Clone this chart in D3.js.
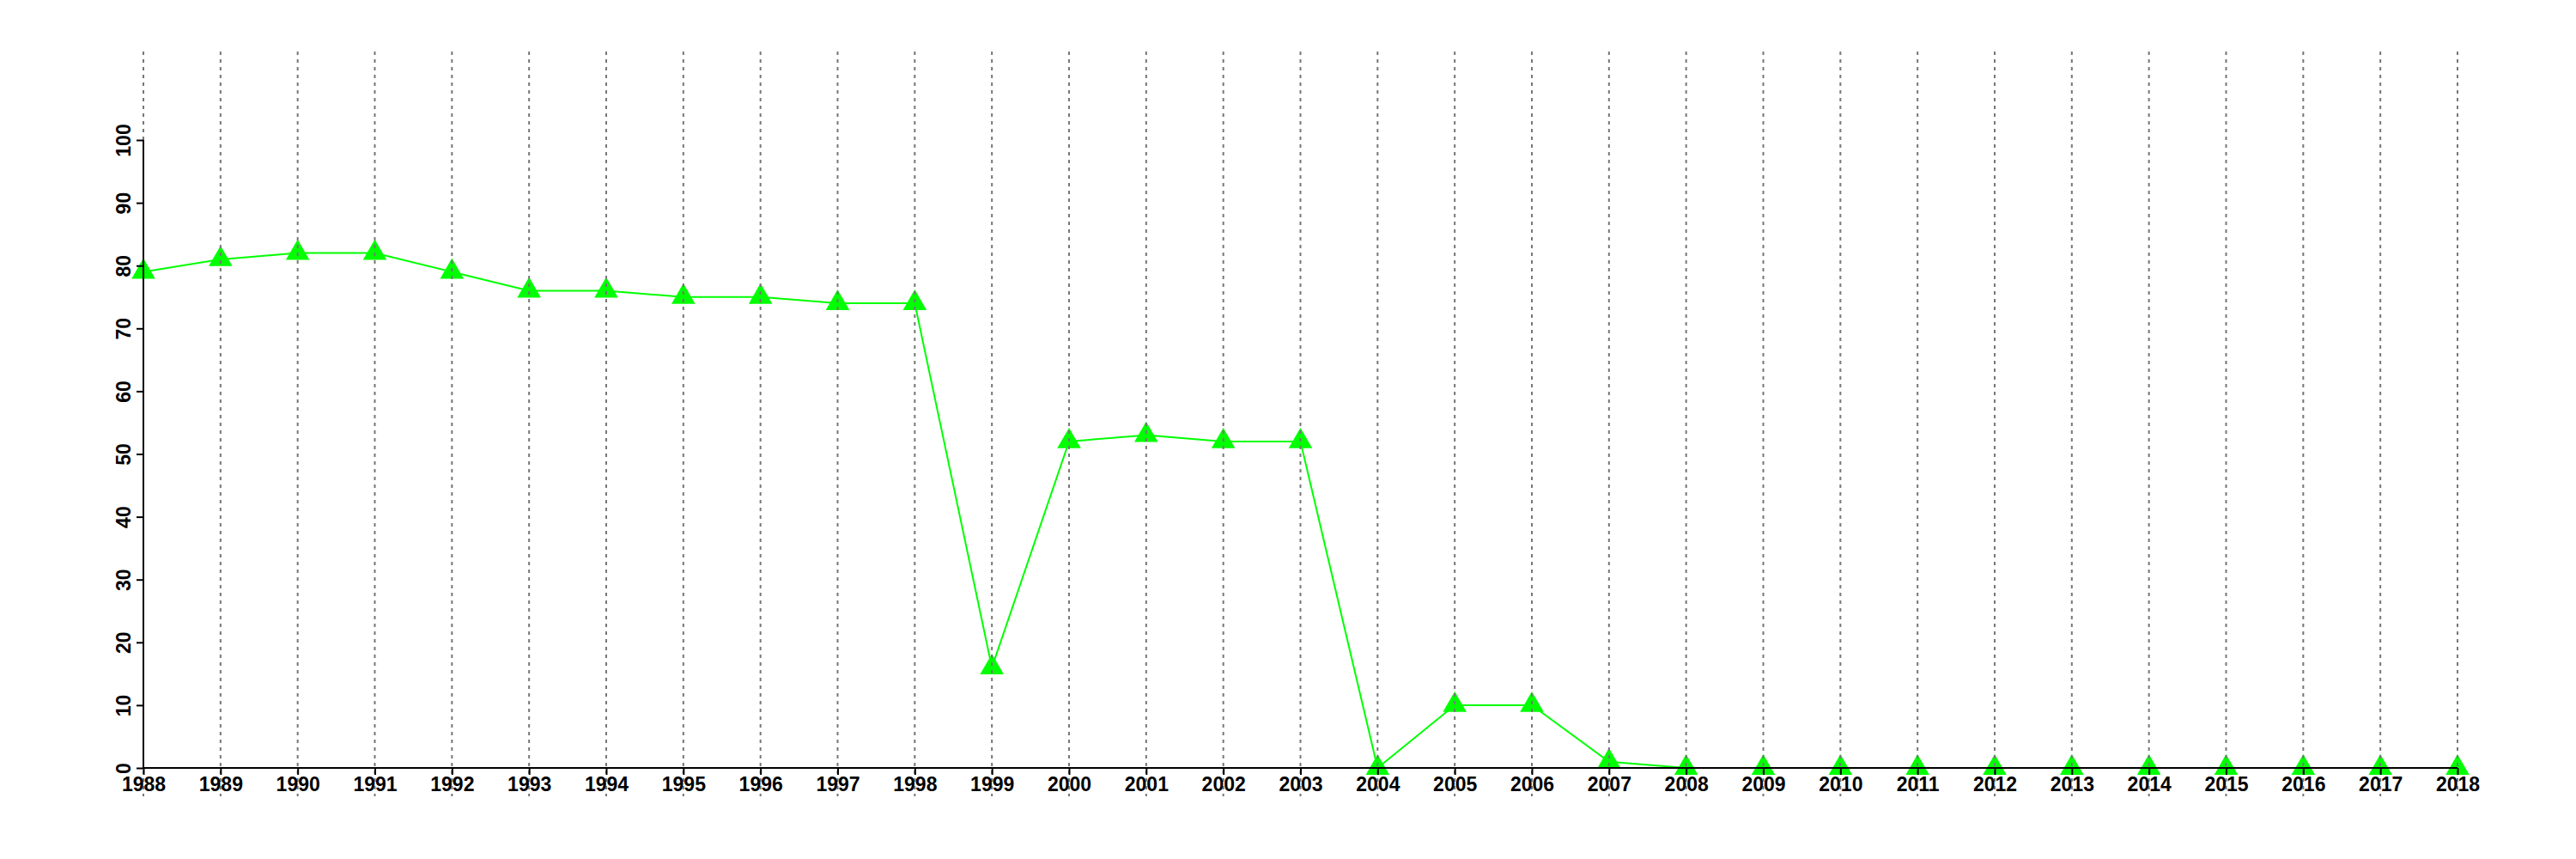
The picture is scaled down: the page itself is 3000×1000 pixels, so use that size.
<!DOCTYPE html>
<html>
<head>
<meta charset="utf-8">
<script src="https://cdn.jsdelivr.net/npm/d3@7"></script>
<style>
html,body{margin:0;padding:0;background:#fff;}
svg{display:block;}
text{font-family:"Liberation Sans",Arial,sans-serif;font-weight:bold;fill:#000;}
</style>
</head>
<body>
<script>
const years = [1988,1989,1990,1991,1992,1993,1994,1995,1996,1997,1998,1999,2000,2001,2002,2003,2004,2005,2006,2007,2008,2009,2010,2011,2012,2013,2014,2015,2016,2017,2018];
const values = [79,81,82,82,79,76,76,75,75,74,74,16,52,53,52,52,0,10,10,1,0,0,0,0,0,0,0,0,0,0,0];
const yTicks = [0,10,20,30,40,50,60,70,80,90,100];

const W = 3000, H = 1000;
const svg = d3.select("body").append("svg").attr("width", W).attr("height", H);

const x = d3.scaleLinear().domain([1988, 2018]).range([167, 2862]);
const y = d3.scaleLinear().domain([0, 100]).range([894, 163]);

// line
const line = d3.line().x((d, i) => x(years[i])).y(d => y(d));
svg.append("path").datum(values)
  .attr("d", line)
  .attr("fill", "none")
  .attr("stroke", "#00ff00")
  .attr("stroke-width", 2);

// markers
const tri = d3.symbol().type(d3.symbolTriangle).size(330);
svg.append("g").selectAll("path").data(values).join("path")
  .attr("d", tri)
  .attr("transform", (d, i) => `translate(${x(years[i])},${y(d)})`)
  .attr("fill", "#00ff00");

// dotted vertical grid lines
svg.append("g").selectAll("line").data(years).join("line")
  .attr("x1", d => x(d)).attr("x2", d => x(d))
  .attr("y1", 60).attr("y2", 927)
  .attr("stroke", "#777")
  .attr("stroke-width", 2)
  .attr("stroke-dasharray", "4,5");

// x axis
const xAxis = svg.append("g").attr("transform", `translate(0,${y(0)})`)
  .call(d3.axisBottom(x).tickValues(years).tickFormat(d3.format("d")).tickSize(8).tickPadding(3));
xAxis.select(".domain").attr("stroke", "#000").attr("stroke-width", 2).attr("d", `M${x(1988)},0H${x(2018)}`);
xAxis.selectAll(".tick line").attr("stroke", "#000").attr("stroke-width", 2);
xAxis.selectAll(".tick text").attr("font-size", 23).attr("dy", null).attr("y", 27);

// y axis
const yAxis = svg.append("g").attr("transform", `translate(${x(1988)},0)`)
  .call(d3.axisLeft(y).tickValues(yTicks).tickSize(8));
yAxis.select(".domain").attr("stroke", "#000").attr("stroke-width", 2).attr("d", `M0,${y(0)}V${y(100)}`);
yAxis.selectAll(".tick line").attr("stroke", "#000").attr("stroke-width", 2);
yAxis.selectAll(".tick text")
  .attr("font-size", 23)
  .attr("x", null).attr("dy", null)
  .attr("text-anchor", "middle")
  .attr("transform", "translate(-15,0) rotate(-90)");
</script>
</body>
</html>
